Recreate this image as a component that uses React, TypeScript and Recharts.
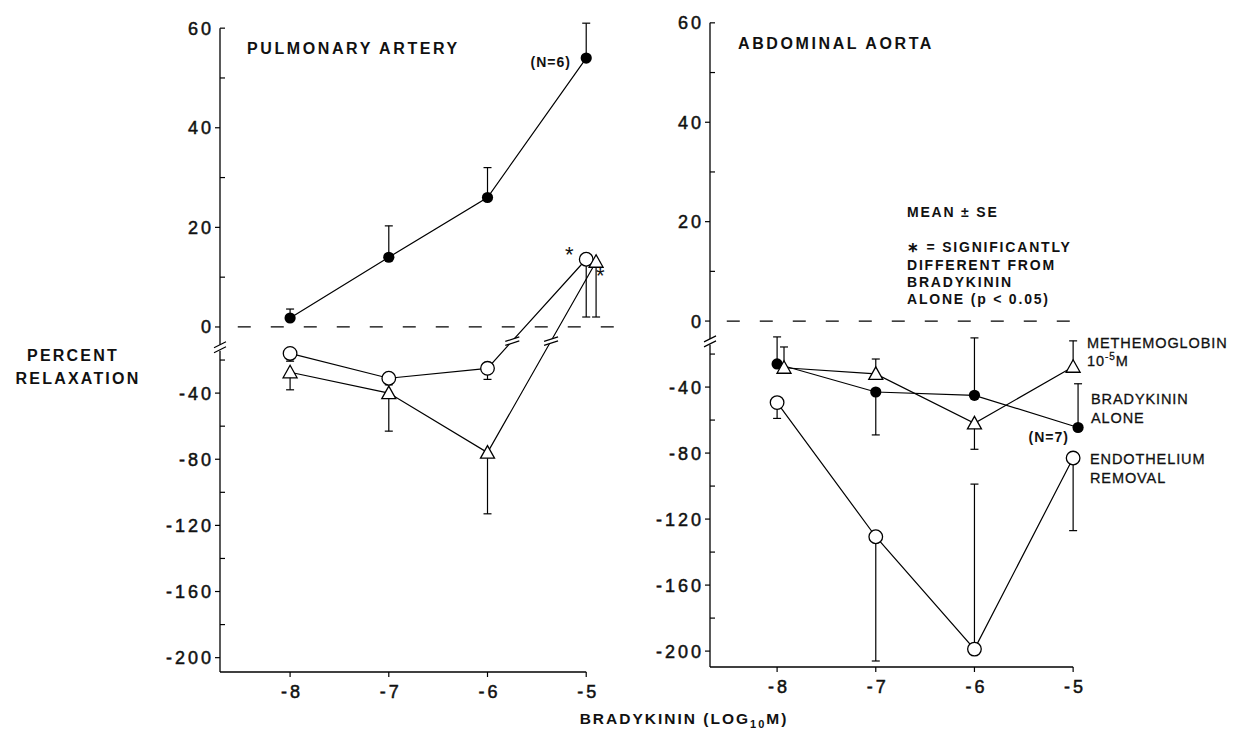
import { LineChart, Line, XAxis, YAxis, ErrorBar, ReferenceLine, ReferenceDot } from 'recharts';

const FONT = '"Liberation Sans", Arial, Helvetica, sans-serif';

// log10 M bradykinin
const doseTicks = [-8, -7, -6, -5];
const yMajor = [60, 40, 20, 0, -40, -80, -120, -160, -200];
const yMinor = [50, 30, 10, -20, -60, -100, -140, -180];

// pulmonary artery (values, and the end of each SE bar)
const paAloneX = [-8, -7, -6, -5];
const paAloneY = [1.8, 14, 26, 54];
const paAloneSE = [3.6, 20.3, 32, 61];

const paEndoX = [-8, -7, -6, -5];
const paEndoY = [-16, -31, -25, 13.6];
const paEndoSE = [-20.7, -35, -31.7, 2];

const paMethX = [-8, -7, -6, -4.9];
const paMethY = [-27.4, -40, -76, 13.1];
const paMethSE = [-38, -63, -113, 2];

// abdominal aorta
const aaAloneX = [-8, -7, -6, -4.95];
const aaAloneY = [-26, -43, -45, -64.5];
const aaAloneSE = [-9.6, -69, -10.2, -38];

const aaMethX = [-7.93, -7, -6, -5];
const aaMethY = [-28.3, -32, -62, -27.7];
const aaMethSE = [-15.7, -23, -77.7, -12];

const aaEndoX = [-8, -7, -6, -5];
const aaEndoY = [-49.4, -130.7, -198.8, -83];
const aaEndoSE = [-59, -206, -98.8, -127];

// broken axis: negative part is compressed
const LOWER = 0.332;
const fwd = (v: number) => (v >= 0 ? v : v * LOWER);
const back = (t: number) => (t >= 0 ? t : t / LOWER);

const yTicks = [...yMajor, ...yMinor].map(fwd).sort((a, b) => a - b);

function series(xs: number[], ys: number[], ends: number[]) {
  return xs.map((x, i) => {
    const y = fwd(ys[i]);
    const e = fwd(ends[i]);
    return { x, y, err: e < y ? [y - e, 0] : [0, e - y] };
  });
}

// x where segment i -> i+1 crosses level t
function crossAt(s: { x: number; y: number }[], i: number, t: number) {
  const a = s[i], b = s[i + 1];
  const f = (t - a.y) / (b.y - a.y);
  return a.x + f * (b.x - a.x);
}

const FilledDot = (p: any) => <circle cx={p.cx} cy={p.cy} r={5.6} fill="#000" />;
const OpenDot = (p: any) => (
  <circle cx={p.cx} cy={p.cy} r={6.8} fill="#fff" stroke="#000" strokeWidth={1.3} />
);
const TriDot = (p: any) => (
  <polygon
    points={`${p.cx},${p.cy - 7} ${p.cx - 7},${p.cy + 5.5} ${p.cx + 7},${p.cy + 5.5}`}
    fill="#fff"
    stroke="#000"
    strokeWidth={1.3}
  />
);

const numStyle = {
  fontFamily: FONT,
  fontSize: 18,
  letterSpacing: 3,
  fill: '#111',
  stroke: '#111',
  strokeWidth: 0.5,
};

const YTick = (props: any) => {
  const { x, y, payload } = props;
  const raw = Math.round(back(payload.value));
  if (!yMajor.includes(raw)) {
    return <line x1={x} x2={x + 5} y1={y} y2={y} stroke="#000" strokeWidth={1.2} />;
  }
  const right = raw === 60;
  return (
    <g>
      <line x1={right ? x : x - 5} x2={right ? x + 5 : x} y1={y} y2={y} stroke="#000" strokeWidth={1.2} />
      <text x={x - 6} y={y} dy="0.36em" textAnchor="end" {...numStyle}>
        {raw}
      </text>
    </g>
  );
};

const XTick = (props: any) => {
  const { x, y, payload } = props;
  return (
    <text x={x + 2} y={y} dy="0.71em" textAnchor="middle" {...numStyle}>
      {payload.value}
    </text>
  );
};

const AxisBreak = (p: any) => (
  <g stroke="#000" strokeWidth={1.2}>
    <line x1={p.cx - 6} y1={p.cy + 1} x2={p.cx + 6} y2={p.cy - 5} />
    <line x1={p.cx - 6} y1={p.cy + 6} x2={p.cx + 6} y2={p.cy} />
  </g>
);

const LineBreak = (p: any) => (
  <g>
    <polygon
      points={`${p.cx - 7},${p.cy + 0.5} ${p.cx + 7},${p.cy - 4} ${p.cx + 7},${p.cy} ${p.cx - 7},${p.cy + 4.5}`}
      fill="#fff"
    />
    <g stroke="#000" strokeWidth={1.2}>
      <line x1={p.cx - 7} y1={p.cy + 0.5} x2={p.cx + 7} y2={p.cy - 4} />
      <line x1={p.cx - 7} y1={p.cy + 4.5} x2={p.cx + 7} y2={p.cy} />
    </g>
  </g>
);

type Geo = {
  left: number;
  width: number;
  margin: { top: number; right: number; bottom: number; left: number };
  xMin: number;
  xMax: number;
  tMin: number;
  dash: [number, number];
};

type Series = { data: any[]; dot: any };

function Panel({ geo, lines, breaks }: { geo: Geo; lines: Series[]; breaks: { x: number; y: number }[] }) {
  const tMax = 62;
  const breakT = fwd(-12);
  return (
    <div style={{ position: 'absolute', left: geo.left, top: 0 }}>
      <LineChart width={geo.width} height={710} margin={geo.margin}>
        <XAxis
          type="number"
          dataKey="x"
          domain={[geo.xMin, geo.xMax]}
          allowDataOverflow
          ticks={doseTicks}
          height={30}
          axisLine={false}
          tickLine={{ stroke: '#000', strokeWidth: 1.2 }}
          tickSize={5}
          tickMargin={8}
          tick={<XTick />}
        />
        <YAxis
          type="number"
          domain={[geo.tMin, tMax]}
          allowDataOverflow
          ticks={yTicks}
          width={60}
          axisLine={false}
          tickLine={false}
          tickSize={0}
          tickMargin={0}
          tick={<YTick />}
          interval={0}
        />
        <ReferenceLine
          segment={[{ x: geo.xMin, y: 60 }, { x: geo.xMin, y: breakT + 0.4 }]}
          stroke="#000"
          strokeWidth={1.3}
          ifOverflow="visible"
        />
        <ReferenceLine
          segment={[{ x: geo.xMin, y: breakT - 0.8 }, { x: geo.xMin, y: geo.tMin }]}
          stroke="#000"
          strokeWidth={1.3}
          ifOverflow="visible"
        />
        <ReferenceLine
          segment={[{ x: geo.xMin, y: geo.tMin }, { x: -5, y: geo.tMin }]}
          stroke="#000"
          strokeWidth={1.3}
          ifOverflow="visible"
        />
        <ReferenceLine
          segment={[{ x: geo.dash[0], y: 0 }, { x: geo.dash[1], y: 0 }]}
          stroke="#000"
          strokeWidth={1.2}
          strokeDasharray="13 20"
          ifOverflow="visible"
        />
        <ReferenceDot x={geo.xMin} y={breakT} shape={<AxisBreak />} ifOverflow="visible" />
        {lines.map((s, i) => (
          <Line
            key={i}
            data={s.data}
            dataKey="y"
            type="linear"
            stroke="#000"
            strokeWidth={1.2}
            dot={s.dot}
            activeDot={false}
            isAnimationActive={false}
          >
            <ErrorBar dataKey="err" direction="y" width={4} stroke="#000" strokeWidth={1.2} />
          </Line>
        ))}
        {breaks.map((b, i) => (
          <ReferenceDot key={'b' + i} x={b.x} y={b.y} shape={<LineBreak />} ifOverflow="visible" />
        ))}
      </LineChart>
    </div>
  );
}

const T = (p: any) => (
  <text fontFamily={FONT} fill="#111" {...p}>
    {p.children}
  </text>
);

export default function App() {
  const paAlone = series(paAloneX, paAloneY, paAloneSE);
  const paEndo = series(paEndoX, paEndoY, paEndoSE);
  const paMeth = series(paMethX, paMethY, paMethSE);
  const aaAlone = series(aaAloneX, aaAloneY, aaAloneSE);
  const aaMeth = series(aaMethX, aaMethY, aaMethSE);
  const aaEndo = series(aaEndoX, aaEndoY, aaEndoSE);

  const lvl = -2.8;
  const paBreaks = [
    { x: crossAt(paEndo, 2, lvl), y: lvl },
    { x: crossAt(paMeth, 2, lvl), y: lvl },
  ];

  const leftGeo: Geo = {
    left: 0,
    width: 660,
    margin: { top: 18.2, right: 34.3, bottom: 8, left: 160 },
    xMin: -8.71,
    xMax: -4.6,
    tMin: -69.28,
    dash: [-8.53, -4.7],
  };
  const rightGeo: Geo = {
    left: 600,
    width: 560,
    margin: { top: 12.9, right: 47.4, bottom: 13, left: 50 },
    xMin: -8.68,
    xMax: -4.6,
    tMin: -69.6,
    dash: [-8.51, -5.03],
  };

  const mean = { fontSize: 14, fontWeight: 'bold', letterSpacing: 1.8 } as const;
  const legend = { fontSize: 14.5, letterSpacing: 0.9, stroke: '#111', strokeWidth: 0.3 } as const;

  return (
    <div style={{ position: 'absolute', left: 0, top: 0, width: 1234, height: 739, background: '#fff' }}>
      <Panel
        geo={leftGeo}
        lines={[
          { data: paAlone, dot: <FilledDot /> },
          { data: paEndo, dot: <OpenDot /> },
          { data: paMeth, dot: <TriDot /> },
        ]}
        breaks={paBreaks}
      />
      <Panel
        geo={rightGeo}
        lines={[
          { data: aaAlone, dot: <FilledDot /> },
          { data: aaMeth, dot: <TriDot /> },
          { data: aaEndo, dot: <OpenDot /> },
        ]}
        breaks={[]}
      />
      <svg width={1234} height={739} style={{ position: 'absolute', left: 0, top: 0, pointerEvents: 'none' }}>
        <T x={247} y={54} fontSize={16} fontWeight="bold" letterSpacing={2.6}>PULMONARY ARTERY</T>
        <T x={571} y={67} fontSize={14} fontWeight="bold" letterSpacing={1} textAnchor="end">(N=6)</T>
        <T x={565} y={262} fontSize={22}>*</T>
        <T x={596} y={283} fontSize={22}>*</T>

        <T x={73} y={361} fontSize={16} fontWeight="bold" letterSpacing={2.2} textAnchor="middle">PERCENT</T>
        <T x={78} y={384} fontSize={16} fontWeight="bold" letterSpacing={2.2} textAnchor="middle">RELAXATION</T>

        <T x={684} y={724} fontSize={15.5} fontWeight="bold" letterSpacing={2} textAnchor="middle">
          BRADYKININ (LOG<tspan fontSize={11} dy={4}>10</tspan><tspan dy={-4}>M)</tspan>
        </T>

        <T x={738} y={49} fontSize={16} fontWeight="bold" letterSpacing={2.6}>ABDOMINAL AORTA</T>
        <T x={907} y={217} {...mean}>MEAN ± SE</T>
        <T x={907} y={252} {...mean}>∗ = SIGNIFICANTLY</T>
        <T x={907} y={270} {...mean}>DIFFERENT FROM</T>
        <T x={907} y={287} {...mean}>BRADYKININ</T>
        <T x={907} y={304} {...mean}>ALONE (p &lt; 0.05)</T>

        <T x={1087} y={348} {...legend}>METHEMOGLOBIN</T>
        <T x={1087} y={366} {...legend}>
          10<tspan fontSize={10} dy={-6}>-5</tspan><tspan dy={6}>M</tspan>
        </T>
        <T x={1091} y={404} {...legend}>BRADYKININ</T>
        <T x={1091} y={423} {...legend}>ALONE</T>
        <T x={1069} y={442} fontSize={14} fontWeight="bold" letterSpacing={1} textAnchor="end">(N=7)</T>
        <T x={1090} y={464} {...legend}>ENDOTHELIUM</T>
        <T x={1090} y={483} {...legend}>REMOVAL</T>
      </svg>
    </div>
  );
}
